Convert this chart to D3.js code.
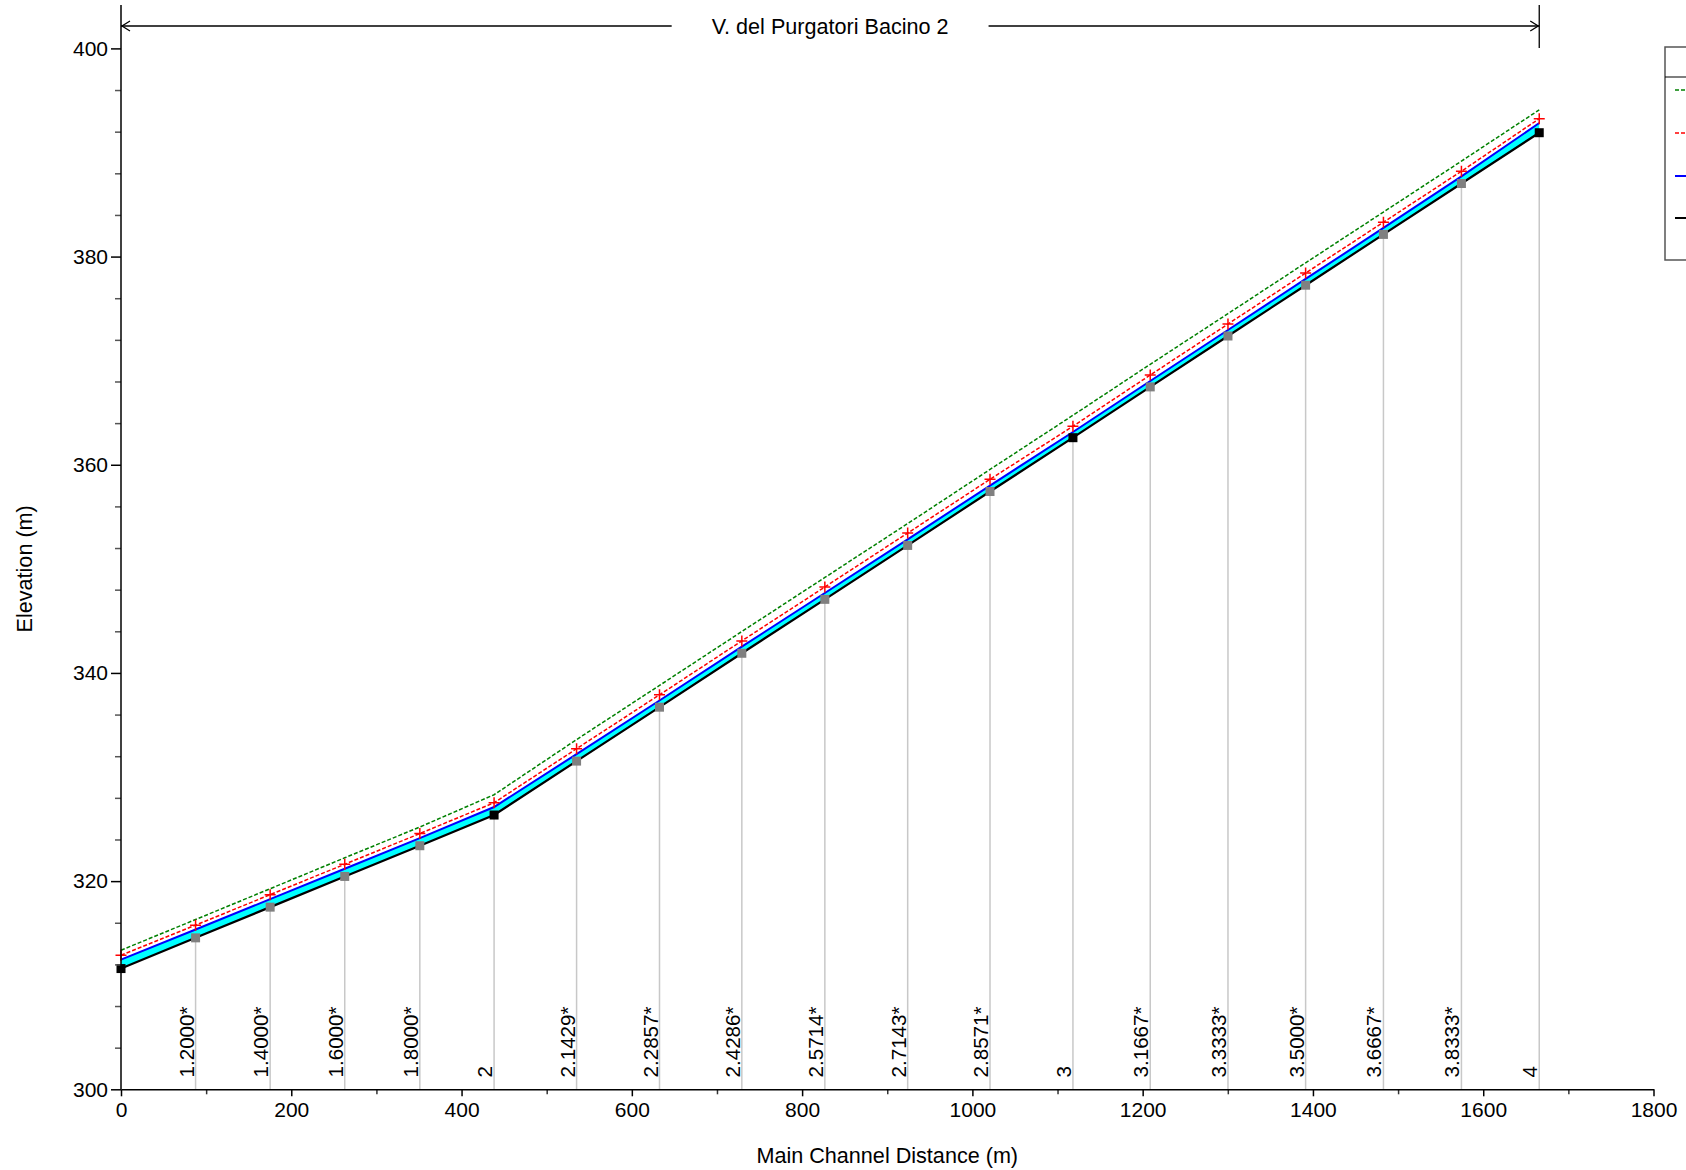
<!DOCTYPE html>
<html>
<head>
<meta charset="utf-8">
<script src="https://cdn.jsdelivr.net/npm/d3@7/dist/d3.min.js"></script>
<style>
  html, body { margin: 0; padding: 0; background: #fff; overflow: hidden; }
  svg { display: block; font-family: "Liberation Sans", Arial, sans-serif; }
</style>
</head>
<body>
<svg id="chart" width="1686" height="1170"></svg>
<script>
// River stations along the reach (asterisk = interpolated cross section)
const stations = ["1", "1.2000*", "1.4000*", "1.6000*", "1.8000*", "2", "2.1429*", "2.2857*",
  "2.4286*", "2.5714*", "2.7143*", "2.8571*", "3", "3.1667*", "3.3333*", "3.5000*",
  "3.6667*", "3.8333*", "4"];
// Main channel distance of each station (m)
const distances = [0, 87.6, 175.2, 262.8, 351.0, 438.2, 535.1, 632.5, 729.2, 826.7, 924.0,
  1020.7, 1118.1, 1208.9, 1300.2, 1391.4, 1482.8, 1574.4, 1665.8];
// Channel bed (ground) elevation (m)
const ground = [311.6, 314.55, 317.5, 320.45, 323.4, 326.35, 331.53, 336.71, 341.89, 347.07,
  352.25, 357.43, 362.6, 367.48, 372.37, 377.25, 382.13, 387.02, 391.9];
// Water surface PF 1 (m)
const ws = [312.46, 315.35, 318.27, 321.19, 324.13, 327.12, 332.2, 337.35, 342.52, 347.68,
  352.84, 358.0, 363.15, 368.05, 372.95, 377.85, 382.75, 387.7, 392.83];
// Critical water surface PF 1 (m)
const crit = [312.88, 315.77, 318.7, 321.62, 324.57, 327.53, 332.72, 337.9, 343.08, 348.26,
  353.44, 358.6, 363.7, 368.62, 373.52, 378.42, 383.3, 388.2, 393.25];
// Energy grade line PF 1 (m)
const eg = [313.36, 316.31, 319.27, 322.24, 325.2, 328.3, 333.6, 338.8, 343.98, 349.17,
  354.35, 359.55, 364.75, 369.65, 374.52, 379.4, 384.28, 389.17, 394.1];

const reachName = "V. del Purgatori Bacino 2";
const xTicksMajor = [0, 200, 400, 600, 800, 1000, 1200, 1400, 1600, 1800];
const xTicksMinor = [100, 300, 500, 700, 900, 1100, 1300, 1500, 1700];
const yTicksMajor = [300, 320, 340, 360, 380, 400];
const yTicksMinor = [304, 308, 312, 316, 324, 328, 332, 336, 344, 348, 352, 356,
  364, 368, 372, 376, 384, 388, 392, 396];
// legend line samples: EG, Crit, WS, Ground
const legendItems = [
  { color: "#008000", dash: "4,2", width: 1.5 },
  { color: "#ff0000", dash: "4,2", width: 1.5 },
  { color: "#0000ff", dash: null, width: 2 },
  { color: "#000000", dash: null, width: 2 }
];

const rows = stations.map((s, i) => ({
  name: s, dist: distances[i], ground: ground[i], ws: ws[i], crit: crit[i], eg: eg[i],
  main: !s.endsWith("*")
}));

const svg = d3.select("#chart");
const x = d3.scaleLinear().domain([0, 1800]).range([121, 1653.5]);
const y = d3.scaleLinear().domain([300, 400]).range([1089.3, 48.4]);
const plotTop = 5;
const tickFont = 21;
const labelFont = 20.6;
const titleFont = 21.6;

// station guide lines from bed down to the axis
svg.append("g").selectAll("line")
  .data(rows.filter(d => d.dist > 0))
  .join("line")
  .attr("x1", d => x(d.dist)).attr("x2", d => x(d.dist))
  .attr("y1", d => y(d.ground)).attr("y2", y(300))
  .attr("stroke", "#c8c8c8").attr("stroke-width", 1.5);

// station labels
svg.append("g").selectAll("text")
  .data(rows.filter(d => d.dist > 0))
  .join("text")
  .attr("transform", d => `translate(${x(d.dist) - 2},1077.5) rotate(-90)`)
  .attr("font-size", labelFont)
  .attr("fill", "#000")
  .text(d => d.name);

// water between bed and water surface
svg.append("path")
  .datum(rows)
  .attr("fill", "#00ffff")
  .attr("d", d3.area().x(d => x(d.dist)).y0(d => y(d.ground)).y1(d => y(d.ws)));

const line = key => d3.line().x(d => x(d.dist)).y(d => y(d[key]));

svg.append("path").datum(rows).attr("d", line("eg"))
  .attr("fill", "none").attr("stroke", "#008000").attr("stroke-width", 1.5)
  .attr("stroke-dasharray", "4,2");
svg.append("path").datum(rows).attr("d", line("crit"))
  .attr("fill", "none").attr("stroke", "#ff0000").attr("stroke-width", 1.5)
  .attr("stroke-dasharray", "4,2");
svg.append("path").datum(rows).attr("d", line("ws"))
  .attr("fill", "none").attr("stroke", "#0000ff").attr("stroke-width", 2);
svg.append("path").datum(rows).attr("d", line("ground"))
  .attr("fill", "none").attr("stroke", "#000").attr("stroke-width", 2.2);

// bed markers
const sq = 9;
svg.append("g").selectAll("rect")
  .data(rows)
  .join("rect")
  .attr("x", d => x(d.dist) - sq / 2).attr("y", d => y(d.ground) - sq / 2)
  .attr("width", sq).attr("height", sq)
  .attr("fill", d => d.main ? "#000" : "#808080");

// critical depth markers
const pl = 5.5;
svg.append("g").selectAll("path")
  .data(rows)
  .join("path")
  .attr("d", d => {
    const cx = x(d.dist), cy = y(d.crit);
    return `M${cx - pl},${cy}H${cx + pl}M${cx},${cy - pl}V${cy + pl}`;
  })
  .attr("stroke", "#ff0000").attr("stroke-width", 1.5).attr("fill", "none");

// x axis
const xMinor = d3.axisBottom(x).tickValues(xTicksMinor).tickSize(5).tickFormat("").tickSizeOuter(0);
const xMajor = d3.axisBottom(x).tickValues(xTicksMajor).tickSize(7).tickSizeOuter(0)
  .tickPadding(6).tickFormat(d3.format("d"));
const gxm = svg.append("g").attr("transform", `translate(0,${y(300)})`).call(xMinor);
gxm.select(".domain").remove();
gxm.selectAll("line").attr("stroke", "#333").attr("stroke-width", 1.5);
const gx = svg.append("g").attr("transform", `translate(0,${y(300)})`).call(xMajor);
gx.select(".domain").attr("stroke", "#000").attr("stroke-width", 1.5);
gx.selectAll("line").attr("stroke", "#000").attr("stroke-width", 1.5);
gx.selectAll("text").attr("font-size", tickFont).attr("fill", "#000")
  .attr("font-family", "Liberation Sans, Arial, sans-serif");

// y axis
const yMinor = d3.axisLeft(y).tickValues(yTicksMinor).tickSize(6).tickFormat("").tickSizeOuter(0);
const yMajor = d3.axisLeft(y).tickValues(yTicksMajor).tickSize(10).tickSizeOuter(0)
  .tickPadding(3).tickFormat(d3.format("d"));
const gym = svg.append("g").attr("transform", `translate(${x(0)},0)`).call(yMinor);
gym.select(".domain").remove();
gym.selectAll("line").attr("stroke", "#555").attr("stroke-width", 1.5);
const gy = svg.append("g").attr("transform", `translate(${x(0)},0)`).call(yMajor);
gy.select(".domain").remove();
gy.selectAll("line").attr("stroke", "#000").attr("stroke-width", 1.5);
gy.selectAll("text").attr("font-size", tickFont).attr("fill", "#000")
  .attr("font-family", "Liberation Sans, Arial, sans-serif");
svg.append("line")
  .attr("x1", x(0)).attr("x2", x(0)).attr("y1", y(300)).attr("y2", plotTop)
  .attr("stroke", "#000").attr("stroke-width", 1.5);

// axis titles
svg.append("text")
  .attr("x", (x(0) + x(1800)) / 2).attr("y", 1162.5)
  .attr("text-anchor", "middle").attr("font-size", titleFont).attr("fill", "#000")
  .text("Main Channel Distance (m)");
svg.append("text")
  .attr("transform", `translate(31.5,${(y(300) + y(400)) / 2}) rotate(-90)`)
  .attr("text-anchor", "middle").attr("font-size", titleFont).attr("fill", "#000")
  .text("Elevation (m)");

// reach extent marker
const reachStart = distances[0], reachEnd = distances[distances.length - 1];
const ay = 26;
const x0 = x(reachStart), x1 = x(reachEnd);
const title = svg.append("text")
  .attr("x", (x0 + x1) / 2).attr("y", ay + 7.5)
  .attr("text-anchor", "middle").attr("font-size", titleFont).attr("fill", "#000")
  .text(reachName);
const bb = title.node().getBBox();
const gap = 40;
const ag = svg.append("g").attr("stroke", "#000").attr("stroke-width", 1.3).attr("fill", "none");
ag.append("line").attr("x1", x0).attr("x2", bb.x - gap).attr("y1", ay).attr("y2", ay);
ag.append("line").attr("x1", bb.x + bb.width + gap).attr("x2", x1).attr("y1", ay).attr("y2", ay);
ag.append("path").attr("d", `M${x0 + 9},${ay - 5}L${x0 + 1},${ay}L${x0 + 9},${ay + 5}`);
ag.append("path").attr("d", `M${x1 - 9},${ay - 5}L${x1 - 1},${ay}L${x1 - 9},${ay + 5}`);
ag.append("line").attr("x1", x1).attr("x2", x1).attr("y1", plotTop).attr("y2", 48);

// legend box (extends past the right edge)
const lg = svg.append("g");
lg.append("rect").attr("x", 1665).attr("y", 47).attr("width", 120).attr("height", 213)
  .attr("fill", "#fff").attr("stroke", "#555").attr("stroke-width", 1.5);
lg.append("line").attr("x1", 1665).attr("x2", 1786).attr("y1", 77).attr("y2", 77)
  .attr("stroke", "#000").attr("stroke-width", 1.2);
const legY = [90, 133, 176, 218];
legendItems.forEach((it, i) => {
  lg.append("line").attr("x1", 1675).attr("x2", 1710).attr("y1", legY[i]).attr("y2", legY[i])
    .attr("stroke", it.color).attr("stroke-width", it.width)
    .attr("stroke-dasharray", it.dash);
});
</script>
</body>
</html>
